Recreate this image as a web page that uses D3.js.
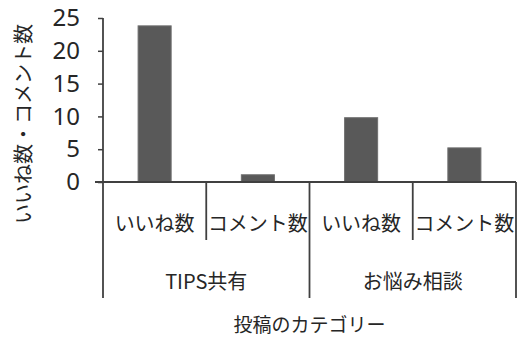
<!DOCTYPE html>
<html>
<head>
<meta charset="utf-8">
<script src="https://cdn.jsdelivr.net/npm/d3@7"></script>
<style>
  body { margin: 0; background: #fff; }
  text { font-family: "Noto Sans CJK JP", "Noto Sans", sans-serif; fill: #262626; }
</style>
</head>
<body>
<div id="chart"></div>
<script>
// data
var groups = ["TIPS共有", "お悩み相談"];
var subLabels = ["いいね数", "コメント数", "いいね数", "コメント数"];
var values = [23.8, 1.1, 9.8, 5.2];
var yTicks = [0, 5, 10, 15, 20, 25];

var width = 518, height = 337;
var plotLeft = 103, plotRight = 516, plotTop = 18, base = 182;
var lineColor = "#404040";

var svg = d3.select("#chart").append("svg")
  .attr("width", width)
  .attr("height", height);

// scales
var x = d3.scaleBand()
  .domain(d3.range(values.length))
  .range([plotLeft, plotRight])
  .padding(0);
var xg = d3.scaleBand()
  .domain(groups)
  .range([plotLeft, plotRight])
  .padding(0);
var y = d3.scaleLinear()
  .domain([0, 25])
  .range([base, plotTop]);

// bars
var barW = x.bandwidth() * 0.32;
svg.append("g")
  .selectAll("rect")
  .data(values)
  .enter()
  .append("rect")
  .attr("x", function (d, i) { return x(i) + (x.bandwidth() - barW) / 2; })
  .attr("y", function (d) { return y(d); })
  .attr("width", barW)
  .attr("height", function (d) { return base - y(d); })
  .attr("fill", "#595959")
  .attr("stroke", "#6e6e6e")
  .attr("stroke-width", 1);

// y axis
var yAxis = svg.append("g")
  .attr("transform", "translate(" + plotLeft + ",0)")
  .call(d3.axisLeft(y).tickValues(yTicks).tickSize(5).tickPadding(18));
yAxis.select(".domain").remove();
yAxis.selectAll("line").attr("stroke", lineColor).attr("stroke-width", 1.5);
yAxis.selectAll("text")
  .style("font-size", "24px")
  .style("font-family", "'Noto Sans', sans-serif")
  .attr("fill", "#262626");

// axis lines and category separators
var g = svg.append("g").attr("stroke", lineColor).attr("stroke-width", 1.8);
g.append("line").attr("x1", plotLeft).attr("x2", plotLeft).attr("y1", plotTop).attr("y2", 298);
g.append("line").attr("x1", plotLeft - 8).attr("x2", plotRight).attr("y1", base).attr("y2", base);
// separators between sub categories (short) and groups (long)
d3.range(1, values.length + 1).forEach(function (i) {
  var xx = i < values.length ? x(i) : plotRight;
  var long = i % 2 === 0;
  g.append("line")
    .attr("x1", xx).attr("x2", xx)
    .attr("y1", base).attr("y2", long ? 298 : 240);
});

// sub labels
svg.append("g")
  .selectAll("text")
  .data(subLabels)
  .enter()
  .append("text")
  .attr("x", function (d, i) { return x(i) + x.bandwidth() / 2; })
  .attr("y", 222)
  .attr("text-anchor", "middle")
  .attr("dominant-baseline", "central")
  .style("font-size", "20px")
  .text(function (d) { return d; });

// group labels
svg.append("g")
  .selectAll("text")
  .data(groups)
  .enter()
  .append("text")
  .attr("x", function (d) { return xg(d) + xg.bandwidth() / 2; })
  .attr("y", 280)
  .attr("text-anchor", "middle")
  .attr("dominant-baseline", "central")
  .style("font-size", "20px")
  .text(function (d) { return d; });

// axis titles
svg.append("text")
  .attr("x", (plotLeft + plotRight) / 2)
  .attr("y", 323)
  .attr("text-anchor", "middle")
  .attr("dominant-baseline", "central")
  .style("font-size", "19px")
  .text("投稿のカテゴリー");

svg.append("text")
  .attr("transform", "translate(22,124) rotate(-90)")
  .attr("text-anchor", "middle")
  .attr("dominant-baseline", "central")
  .style("font-size", "20px")
  .text("いいね数・コメント数");
</script>
</body>
</html>
